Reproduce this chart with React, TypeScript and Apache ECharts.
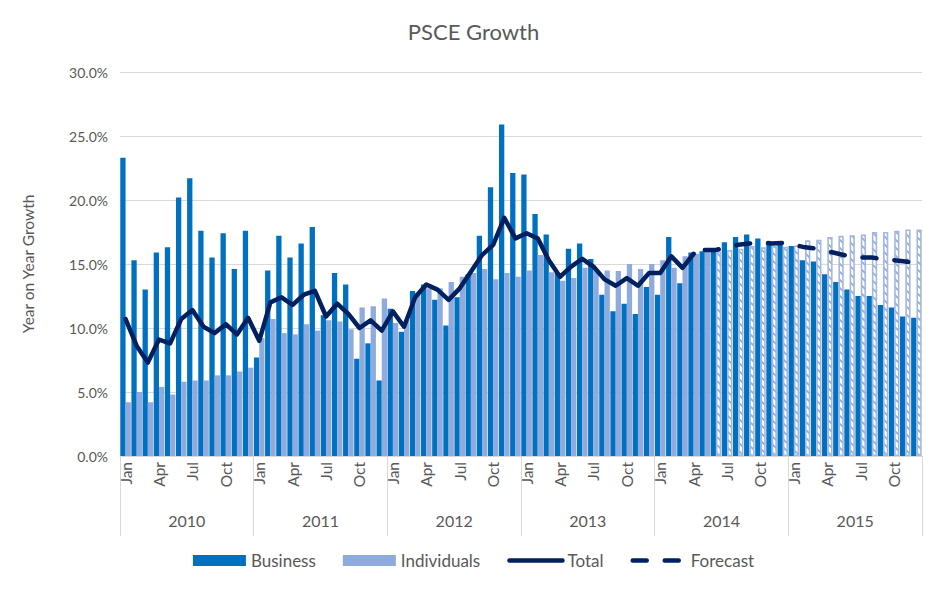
import React, { useEffect, useRef } from "react";
import * as echarts from "echarts";

const monthNames = ["Jan", "Feb", "Mar", "Apr", "May", "Jun", "Jul", "Aug", "Sep", "Oct", "Nov", "Dec"];
const years = ["2010", "2011", "2012", "2013", "2014", "2015"];

const business2010 = [23.3, 15.3, 13.0, 15.9, 16.3, 20.2, 21.7, 17.6, 15.5, 17.4, 14.6, 17.6];
const business2011 = [7.7, 14.5, 17.2, 15.5, 16.6, 17.9, 11.0, 14.3, 13.4, 7.6, 8.8, 5.9];
const business2012 = [11.5, 9.7, 12.9, 13.4, 12.2, 10.2, 12.4, 14.2, 17.2, 21.0, 25.9, 22.1];
const business2013 = [22.0, 18.9, 17.3, 14.3, 16.2, 16.6, 15.4, 12.6, 11.3, 11.9, 11.1, 13.2];
const business2014 = [12.6, 17.1, 13.5, 15.9, 16.0, 16.1, 16.7, 17.1, 17.3, 17.0, 16.6, 16.5];
const business2015 = [16.4, 15.3, 15.2, 14.2, 13.6, 13.0, 12.5, 12.5, 11.8, 11.6, 10.9, 10.8];

const individuals2010 = [4.2, 5.0, 4.2, 5.4, 4.8, 5.8, 5.9, 5.9, 6.3, 6.3, 6.6, 6.9];
const individuals2011 = [9.2, 10.7, 9.6, 9.5, 10.3, 9.8, 10.6, 10.5, 9.9, 11.6, 11.7, 12.3];
const individuals2012 = [10.4, 10.6, 12.7, 13.1, 13.1, 13.6, 14.0, 14.3, 14.6, 13.8, 14.3, 14.0];
const individuals2013 = [14.5, 15.7, 14.35, 13.7, 13.9, 14.7, 14.5, 14.5, 14.45, 15.0, 14.6, 15.0];
const individuals2014 = [15.3, 14.7, 15.6, 15.8, 16.1, 16.0, 16.1, 16.2, 16.4, 16.3, 16.4, 16.35];
const individuals2015 = [16.45, 16.85, 16.9, 17.1, 17.2, 17.25, 17.3, 17.5, 17.5, 17.6, 17.7, 17.7];

// Total: Jan 2010 - Apr 2014
const total = [
  10.7, 8.6, 7.3, 9.1, 8.8, 10.7, 11.4, 10.1, 9.6, 10.3, 9.5, 10.8,
  9.0, 12.0, 12.4, 11.8, 12.6, 12.9, 10.9, 11.9, 11.1, 10.0, 10.6, 9.8,
  11.3, 10.1, 12.4, 13.4, 13.0, 12.2, 13.1, 14.4, 15.7, 16.5, 18.6, 17.0,
  17.4, 17.0, 15.3, 14.0, 14.8, 15.4, 14.8, 13.8, 13.3, 13.9, 13.3, 14.3,
  14.3, 15.6, 14.7, 15.8,
];
// Forecast: May 2014 - Dec 2015
const forecast = [
  16.1, 16.1, 16.3, 16.5, 16.6, 16.7, 16.6, 16.65,
  16.5, 16.3, 16.2, 16.0, 15.8, 15.6, 15.5, 15.5, 15.4, 15.3, 15.2, 15.05,
];
// first month index whose Individuals bar is a forecast (Jun 2014)
const forecastBarStart = 53;

const yTicks = { min: 0, max: 30, interval: 5 };

export default function App() {
  const ref = useRef<HTMLDivElement>(null);
  useEffect(() => {
    if (!ref.current) return;
    const chart = echarts.init(ref.current, undefined, { renderer: "svg" });

    const categories: string[] = [];
    years.forEach((y) => monthNames.forEach((m) => categories.push(m + " " + y)));
    const business = [...business2010, ...business2011, ...business2012, ...business2013, ...business2014, ...business2015];
    const individuals = [
      ...individuals2010, ...individuals2011, ...individuals2012,
      ...individuals2013, ...individuals2014, ...individuals2015,
    ];
    const totalData = categories.map((_, i) => (i < total.length ? total[i] : null));
    const forecastData = categories.map((_, i) => (i >= total.length ? forecast[i - total.length] : null));

    const c = document.createElement("canvas");
    c.width = 8;
    c.height = 8;
    const ctx = c.getContext("2d")!;
    ctx.fillStyle = "#ffffff";
    ctx.fillRect(0, 0, 8, 8);
    ctx.strokeStyle = "#8faadc";
    ctx.lineWidth = 1.6;
    ctx.beginPath();
    ctx.moveTo(0, 0);
    ctx.lineTo(8, 8);
    ctx.moveTo(-2, 6);
    ctx.lineTo(2, 10);
    ctx.moveTo(6, -2);
    ctx.lineTo(10, 2);
    ctx.stroke();
    const hatch = { image: c, repeat: "repeat", imageWidth: 8, imageHeight: 8 };

    const indivData = individuals.map((v, i) =>
      i >= forecastBarStart
        ? { value: v, itemStyle: { color: hatch, borderColor: "#a6b7de", borderWidth: 1.6 } }
        : v
    );

    const textColor = "#595959";
    const hiddenSymbol = { color: "rgba(0,0,0,0)", borderWidth: 0, opacity: 0 };
    chart.setOption({
      animation: false,
      textStyle: { fontFamily: "Lato" },
      title: {
        text: "PSCE Growth",
        left: "center",
        top: 15,
        textStyle: { fontSize: 22, fontWeight: "normal", color: textColor, fontFamily: "Lato" },
      },
      grid: { left: 120, right: 25, top: 72, bottom: 137, containLabel: false },
      legend: {
        top: 547,
        left: "center",
        itemWidth: 53,
        itemHeight: 11,
        itemGap: 27,
        textStyle: { fontSize: 17, color: textColor, fontFamily: "Lato" },
        lineStyle: { width: 4.5 },
        data: [
          { name: "Business", icon: "rect" },
          { name: "Individuals", icon: "rect" },
          { name: "Total", itemStyle: hiddenSymbol },
          { name: "Forecast", itemStyle: hiddenSymbol },
        ],
      },
      xAxis: [
        {
          type: "category",
          data: categories,
          position: "bottom",
          axisLine: { lineStyle: { color: "#d9d9d9", width: 1 } },
          axisTick: { show: false },
          axisLabel: {
            interval: 2,
            rotate: 90,
            margin: 6,
            fontSize: 15.5,
            color: textColor,
            fontFamily: "Lato",
            formatter: (v: string) => v.split(" ")[0],
          },
        },
        {
          type: "category",
          data: years,
          position: "bottom",
          offset: 80,
          axisLine: { show: false },
          axisTick: { show: true, inside: true, length: 80, lineStyle: { color: "#d9d9d9" } },
          axisLabel: { inside: true, margin: 8, fontSize: 16, color: textColor, fontFamily: "Lato" },
        },
      ],
      yAxis: {
        type: "value",
        min: yTicks.min,
        max: yTicks.max,
        interval: yTicks.interval,
        name: "Year on Year Growth",
        nameLocation: "middle",
        nameGap: 84,
        nameTextStyle: { fontSize: 15.5, color: textColor, fontFamily: "Lato" },
        axisLine: { show: false },
        axisTick: { show: false },
        axisLabel: {
          fontSize: 14,
          margin: 12,
          color: textColor,
          fontFamily: "Lato",
          formatter: (v: number) => v.toFixed(1) + "%",
        },
        splitLine: { lineStyle: { color: "#d9d9d9", width: 1 } },
      },
      series: [
        {
          name: "Business",
          type: "bar",
          data: business,
          barGap: "0%",
          barCategoryGap: "5%",
          itemStyle: { color: "#0070c0" },
        },
        {
          name: "Individuals",
          type: "bar",
          data: indivData,
          barGap: "0%",
          barCategoryGap: "5%",
          itemStyle: { color: "#8faadc" },
        },
        {
          name: "Total",
          type: "line",
          data: totalData,
          symbol: "none",
          connectNulls: false,
          itemStyle: { color: "#002060" },
          lineStyle: { color: "#002060", width: 4.5, cap: "round", join: "round" },
        },
        {
          name: "Forecast",
          type: "line",
          data: forecastData,
          symbol: "none",
          connectNulls: false,
          itemStyle: { color: "#002060" },
          lineStyle: { color: "#002060", width: 4.5, type: [14, 18], cap: "round", join: "round" },
        },
      ],
    });
    return () => chart.dispose();
  }, []);
  return (
    <div
      ref={ref}
      style={{ position: "absolute", left: 0, top: 0, width: 947, height: 593, background: "#ffffff" }}
    />
  );
}
